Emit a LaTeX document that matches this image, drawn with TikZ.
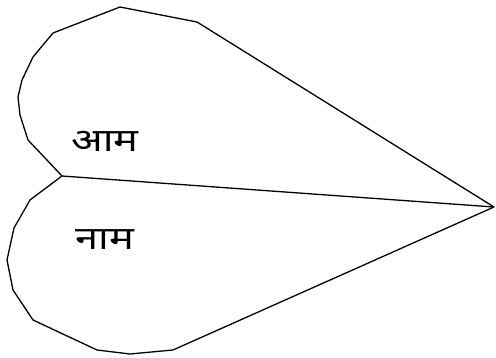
\documentclass[tikz,border=0pt]{standalone}
\usepackage{fontspec}
\newfontfamily\devfont[Script=Devanagari]{Noto Sans}
\usetikzlibrary{positioning}
\definecolor{inkline}{RGB}{0, 0, 0}
\tikzset{
    lobe/.style ={draw=inkline, line width=1.3pt, line join=round},
    spine/.style={draw=inkline, line width=1.3pt},
    word/.style ={font=\devfont\fontsize{32}{38}\selectfont, inner sep=0pt,
                  xscale=1.3, transform shape}
}

\begin{document}
\begin{tikzpicture}[x=1pt, y=-1pt]
  \useasboundingbox (0,0) rectangle (496,358);
  \coordinate (notch) at (62,176);
  \coordinate (tip)   at (494,207);

  % upper lobe
  \draw[lobe] (notch) -- (28,140) -- (20,115) -- (18,97) -- (22,80)
        -- (33,57) -- (53,33) -- (120,7) -- (197,22) -- (tip);
  % lower lobe
  \draw[lobe] (notch) -- (30,200) -- (14,228) -- (7,260) -- (13,290)
        -- (33,320) -- (97,350) -- (130,354) -- (173,350) -- (tip);
  \draw[spine] (notch) -- (tip);

  \node[word] (aam)  at (105,141) {आम};
  \node[word] (naam) at (105,240) {नाम};
\end{tikzpicture}
\end{document}
